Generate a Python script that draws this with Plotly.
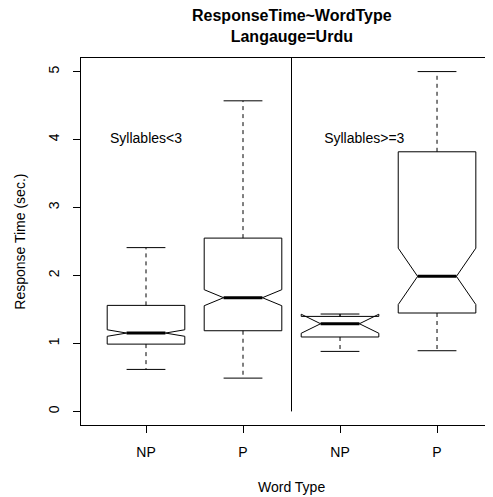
import plotly.graph_objects as go

# ---- data ----
positions = [1, 2, 3, 4]
tick_labels = ["NP", "P", "NP", "P"]
q1 = [0.99, 1.187, 1.095, 1.448]
median = [1.153, 1.673, 1.29, 1.987]
q3 = [1.56, 2.55, 1.398, 3.82]
lower_whisker = [0.618, 0.49, 0.883, 0.893]
upper_whisker = [2.41, 4.57, 1.433, 5.0]
notch_span = [0.048, 0.118, 0.14, 0.415]
y_ticks = [0, 1, 2, 3, 4, 5]
group_labels = ["Syllables<3", "Syllables>=3"]
group_label_x = [1.0, 3.25]
group_label_y = [4.0, 4.0]
divider_x = [2.5, 2.5]
divider_y = [0, 5.2]

FONT = "Liberation Sans, Arial, Helvetica, sans-serif"
box_width = 0.8
cap_half = 0.2
med_half = 0.2

fig = go.Figure()

fig.add_trace(go.Box(
    x=positions, q1=q1, median=median, q3=q3,
    lowerfence=q1, upperfence=q3, notchspan=notch_span,
    notched=True, notchwidth=0.25, width=box_width, whiskerwidth=0,
    boxpoints=False, fillcolor="white",
    line=dict(color="black", width=1), hoverinfo="skip",
))

# dashed whiskers
wx, wy = [], []
for p, a, b, c, d in zip(positions, q3, upper_whisker, q1, lower_whisker):
    wx += [p, p, None, p, p, None]
    wy += [a, b, None, c, d, None]
fig.add_trace(go.Scatter(x=wx, y=wy, mode="lines",
                         line=dict(color="black", width=1, dash="4px,4px"),
                         hoverinfo="skip"))
# caps
cx, cy = [], []
for p, b, d in zip(positions, upper_whisker, lower_whisker):
    cx += [p - cap_half, p + cap_half, None, p - cap_half, p + cap_half, None]
    cy += [b, b, None, d, d, None]
fig.add_trace(go.Scatter(x=cx, y=cy, mode="lines",
                         line=dict(color="black", width=1), hoverinfo="skip"))
# bold medians
mx, my = [], []
for p, m in zip(positions, median):
    mx += [p - med_half, p + med_half, None]
    my += [m, m, None]
fig.add_trace(go.Scatter(x=mx, y=my, mode="lines",
                         line=dict(color="black", width=3), hoverinfo="skip"))
# divider
fig.add_trace(go.Scatter(x=divider_x, y=divider_y, mode="lines",
                         line=dict(color="black", width=1), hoverinfo="skip"))
# group labels
fig.add_trace(go.Scatter(x=group_label_x, y=group_label_y, mode="text",
                         text=group_labels,
                         textfont=dict(family=FONT, size=14, color="black"),
                         hoverinfo="skip"))

fig.update_layout(
    width=493, height=497,
    margin=dict(l=73, r=8, t=50, b=80, autoexpand=False),
    paper_bgcolor="white", plot_bgcolor="white",
    showlegend=False,
    font=dict(family=FONT, size=14, color="black"),
    xaxis=dict(range=[0.33, 4.577], tickmode="array", tickvals=positions,
               ticktext=tick_labels, showgrid=False, zeroline=False,
               showline=True, mirror=True, linecolor="black", linewidth=1,
               ticks="outside", ticklen=7, tickcolor="black",
               tickfont=dict(size=14), automargin=False,
               ticklabelstandoff=7),
    yaxis=dict(range=[-0.2, 5.2], tickmode="array", tickvals=y_ticks,
               showgrid=False, zeroline=False, showline=True, mirror=False,
               linecolor="black", linewidth=1, ticks="outside", ticklen=7,
               tickcolor="black", tickangle=-90, tickfont=dict(size=14),
               automargin=False, ticklabelstandoff=8),
    annotations=[
        dict(text="<b>ResponseTime~WordType</b><br><b>Langauge=Urdu</b>",
             xref="x", yref="paper", x=2.5, y=1.0872, showarrow=False,
             yanchor="middle", align="center", font=dict(size=16)),
        dict(text="Word Type", xref="x", yref="paper", x=2.5, y=-0.169,
             showarrow=False, yanchor="middle", font=dict(size=14)),
        dict(text="Response Time (sec.)", xref="paper", yref="paper",
             x=-0.150, y=0.5, showarrow=False, textangle=-90,
             xanchor="center", yanchor="middle", font=dict(size=14)),
    ],
)

fig.write_html("out.html")
